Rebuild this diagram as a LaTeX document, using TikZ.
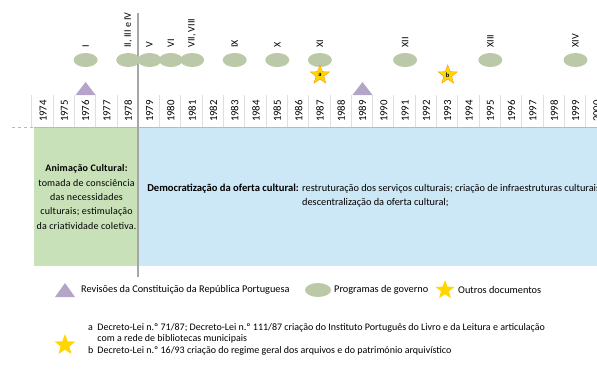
\documentclass[tikz,border=0pt]{standalone}
\usepackage{fontspec}
\setmainfont{Carlito}
\usetikzlibrary{positioning, shapes.geometric, calc}

\definecolor{progverde}{RGB}{188,201,168}
\definecolor{animverde}{RGB}{200,225,184}
\definecolor{democazul}{RGB}{204,232,246}
\definecolor{revlilas}{RGB}{180,164,200}
\definecolor{estrela}{RGB}{255,214,0}

\begin{document}
\begin{tikzpicture}[x=1pt, y=-1pt,
    prog/.style={ellipse, fill=progverde, minimum width=24pt, minimum height=14pt, inner sep=0pt},
    roman/.style={rotate=90, anchor=west, inner sep=0pt, font=\fontsize{10}{10}\selectfont},
    year/.style={rotate=90, inner sep=0pt, font=\fontsize{10.8}{11}\selectfont},
    outro/.style={star, star points=5, star point ratio=2.4, fill=estrela, draw=orange!80!yellow, thin, minimum size=20pt, inner sep=0pt, font=\fontsize{6.5}{6.5}\selectfont\bfseries},
    txt/.style={inner sep=0pt, align=center, font=\fontsize{10.3}{14}\selectfont},
    sep/.style={draw=gray!25, thin}
]
\useasboundingbox (0,0) rectangle (597,368);

% Period boxes below the year row
\node[fill=animverde, minimum width=104pt, minimum height=139pt, anchor=north west, inner sep=0pt] (anim) at (34,127) {};
\node[fill=democazul, minimum width=470pt, minimum height=139pt, anchor=north west, inner sep=0pt] (democ) at (anim.north east) {};

% Text of the two periods
\node[txt, font=\fontsize{10}{14.4}\selectfont\addfontfeature{LetterSpace=2}] (animtxt) at (86.5,197) {\textbf{Animação Cultural:}\\tomada de consciência\\das necessidades\\culturais; estimulação\\da criatividade coletiva.};
\node[txt, anchor=east, font=\fontsize{10.6}{14}\selectfont] (democtit) at (299,189) {\textbf{Democratização da oferta cultural:}};
\node[txt, align=left, anchor=west] (democtxt) at (302,196) {restruturação dos serviços culturais; criação de infraestruturas culturais;\\descentralização da oferta cultural;};

% Year row
\foreach \yr in {1974,...,2000}{
  \draw[sep] ({138+(\yr-1979)*21.3},95) -- ++(0,32);
  \node[year] (y\yr) at ({138+(\yr-1979)*21.3+11.5},111) {\yr};
}
\draw[gray!55, line width=1pt] (anim.north west) -- (597,127);
\draw[gray!55, line width=1pt, dashed] (12,127) -- (anim.north west);

% Vertical separator 1978/1979
\coordinate (topo) at (138,13);
\coordinate (base) at (138,277);
\draw[gray!70, line width=1.2pt] (topo) -- (base);

% Government programmes
\foreach \yr/\lab in {1976/I, 1978/{II, III e IV}, 1979/V, 1980/VI, 1981/{VII, VIII}, 1983/IX, 1985/X, 1987/XI, 1991/XII, 1995/XIII, 1999/XIV}{
  \node[prog] (p\yr) at ({138+(\yr-1979)*21.3+11.5},60) {};
  \node[roman] (l\yr) at ([yshift=5pt]p\yr.north) {\lab};
}

% Constitution revisions
\foreach \yr in {1976,1989}{
  \fill[revlilas] ({138+(\yr-1979)*21.3+1.5},95) -- ++(20,0) -- ++(-10,-13) -- cycle;
}

% Other documents
\node[outro] (sa) at (p1987 |- 0,75) {a};
\node[outro] (sb) at ({138+(1993-1979)*21.3+11.5},75) {b};

% Legend
\fill[revlilas] (55,297) -- (75,297) -- (65,283) -- cycle;
\node[txt, font=\fontsize{10.3}{12}\selectfont, anchor=west] (legrev) at (81,290) {Revisões da Constituição da República Portuguesa};
\node[prog, minimum width=26pt] (legprog) at (318,290) {};
\node[txt, font=\fontsize{10.3}{12}\selectfont, anchor=west] (legprogtxt) at (334,290) {Programas de governo};
\node[outro, draw=none] (legout) at (445,290) {};
\node[txt, font=\fontsize{10.3}{12}\selectfont, anchor=west] (legouttxt) at (458,290) {Outros documentos};

% Notes
\node[outro, draw=none, minimum size=22pt] (notastar) at (65,345) {};
\node[inner sep=0pt, anchor=north west, font=\fontsize{10}{11.6}\selectfont] (notas) at (88,322) {%
\begin{tabular}{@{}l@{\hspace{4pt}}l@{}}
a & Decreto-Lei n.º 71/87; Decreto-Lei n.º 111/87 criação do Instituto Português do Livro e da Leitura e articulação\\
  & com a rede de bibliotecas municipais\\
b & Decreto-Lei n.º 16/93 criação do regime geral dos arquivos e do património arquivístico
\end{tabular}};

\end{tikzpicture}
\end{document}
